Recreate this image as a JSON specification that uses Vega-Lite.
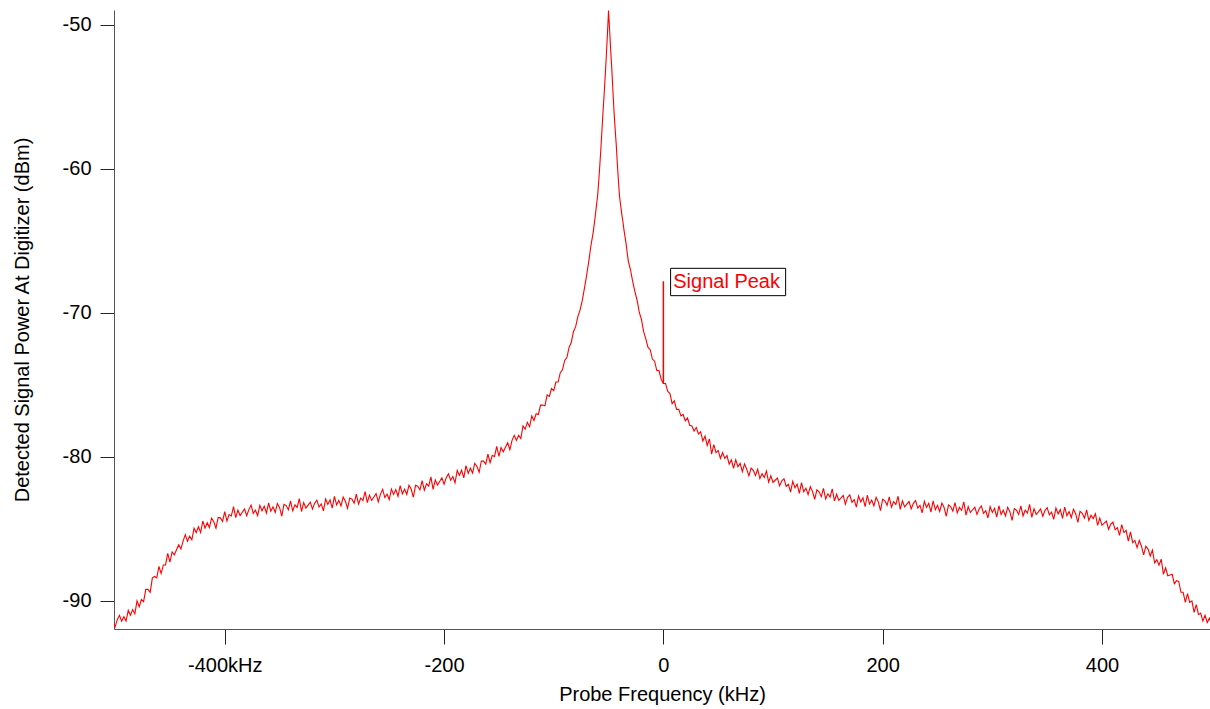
{
  "$schema": "https://vega.github.io/schema/vega-lite/v6.json",
  "autosize": {"type": "none"},
  "padding": {"left": 114, "top": 10, "right": 0, "bottom": 80},
  "width": 1096,
  "height": 619,
  "background": "white",
  "config": {
    "view": {"stroke": null},
    "font": "Liberation Sans",
    "text": {"font": "Liberation Sans"}
  },
  "datasets": {
    "spec": [
      {"f":-502,"p":-91.4},{"f":-500,"p":-91.8},{"f":-498,"p":-91.3},{"f":-496,"p":-91.0},{"f":-494,"p":-91.4},
      {"f":-492,"p":-91.1},{"f":-490,"p":-91.4},{"f":-488,"p":-90.65},{"f":-486,"p":-91.0},{"f":-484,"p":-90.6},
      {"f":-482,"p":-90.9},{"f":-480,"p":-90.0},{"f":-478,"p":-90.4},{"f":-476,"p":-89.9},{"f":-474,"p":-90.05},
      {"f":-472,"p":-89.2},{"f":-470,"p":-89.2},{"f":-468,"p":-89.4},{"f":-466,"p":-88.4},{"f":-464,"p":-88.3},
      {"f":-462,"p":-88.4},{"f":-460,"p":-87.6},{"f":-458,"p":-88.1},{"f":-456,"p":-87.5},{"f":-454,"p":-87.5},
      {"f":-452,"p":-86.7},{"f":-450,"p":-87.3},{"f":-448,"p":-86.6},{"f":-446,"p":-86.8},{"f":-444,"p":-86.45},
      {"f":-442,"p":-86.1},{"f":-440,"p":-86.4},{"f":-438,"p":-85.85},{"f":-436,"p":-85.4},{"f":-434,"p":-85.85},
      {"f":-432,"p":-85.5},{"f":-430,"p":-85.75},{"f":-428,"p":-84.95},{"f":-426,"p":-85.25},{"f":-424,"p":-84.85},
      {"f":-422,"p":-85.25},{"f":-420,"p":-84.45},{"f":-418,"p":-84.95},{"f":-416,"p":-84.57},{"f":-414,"p":-84.9},
      {"f":-412,"p":-84.25},{"f":-410,"p":-84.5},{"f":-408,"p":-84.95},{"f":-406,"p":-84.2},{"f":-404,"p":-84.23},
      {"f":-402,"p":-84.47},{"f":-400,"p":-83.8},{"f":-398,"p":-84.45},{"f":-396,"p":-84.0},{"f":-394,"p":-84.1},
      {"f":-392,"p":-83.45},{"f":-390,"p":-84.22},{"f":-388,"p":-83.7},{"f":-386,"p":-84.07},{"f":-384,"p":-83.84},
      {"f":-382,"p":-83.61},{"f":-380,"p":-84.08},{"f":-378,"p":-83.66},{"f":-376,"p":-83.34},{"f":-374,"p":-83.92},
      {"f":-372,"p":-83.7},{"f":-370,"p":-84.08},{"f":-368,"p":-83.36},{"f":-366,"p":-83.74},{"f":-364,"p":-83.42},
      {"f":-362,"p":-83.9},{"f":-360,"p":-83.19},{"f":-358,"p":-83.77},{"f":-356,"p":-83.46},{"f":-354,"p":-83.85},
      {"f":-352,"p":-83.24},{"f":-350,"p":-83.52},{"f":-348,"p":-84.11},{"f":-346,"p":-83.3},{"f":-344,"p":-83.38},
      {"f":-342,"p":-83.67},{"f":-340,"p":-83.06},{"f":-338,"p":-83.74},{"f":-336,"p":-83.33},{"f":-334,"p":-83.51},
      {"f":-332,"p":-82.9},{"f":-330,"p":-83.79},{"f":-328,"p":-83.17},{"f":-326,"p":-83.56},{"f":-324,"p":-83.35},
      {"f":-322,"p":-83.14},{"f":-320,"p":-83.62},{"f":-318,"p":-83.21},{"f":-316,"p":-83.0},{"f":-314,"p":-83.48},
      {"f":-312,"p":-83.26},{"f":-310,"p":-83.74},{"f":-308,"p":-82.92},{"f":-306,"p":-83.3},{"f":-304,"p":-82.98},
      {"f":-302,"p":-83.56},{"f":-300,"p":-82.74},{"f":-298,"p":-83.33},{"f":-296,"p":-83.02},{"f":-294,"p":-83.4},
      {"f":-292,"p":-82.79},{"f":-290,"p":-83.08},{"f":-288,"p":-83.57},{"f":-286,"p":-82.85},{"f":-284,"p":-82.93},
      {"f":-282,"p":-83.21},{"f":-280,"p":-82.59},{"f":-278,"p":-83.27},{"f":-276,"p":-82.85},{"f":-274,"p":-83.03},
      {"f":-272,"p":-82.41},{"f":-270,"p":-83.18},{"f":-268,"p":-82.65},{"f":-266,"p":-83.02},{"f":-264,"p":-82.78},
      {"f":-262,"p":-82.55},{"f":-260,"p":-83.12},{"f":-258,"p":-82.58},{"f":-256,"p":-82.25},{"f":-254,"p":-82.82},
      {"f":-252,"p":-82.59},{"f":-250,"p":-82.96},{"f":-248,"p":-82.23},{"f":-246,"p":-82.6},{"f":-244,"p":-82.26},
      {"f":-242,"p":-82.73},{"f":-240,"p":-82.0},{"f":-238,"p":-82.57},{"f":-236,"p":-82.23},{"f":-234,"p":-82.6},
      {"f":-232,"p":-81.97},{"f":-230,"p":-82.23},{"f":-228,"p":-82.8},{"f":-226,"p":-81.97},{"f":-224,"p":-82.03},
      {"f":-222,"p":-82.29},{"f":-220,"p":-81.65},{"f":-218,"p":-82.31},{"f":-216,"p":-81.87},{"f":-214,"p":-82.03},
      {"f":-212,"p":-81.39},{"f":-210,"p":-82.25},{"f":-208,"p":-81.6},{"f":-206,"p":-81.95},{"f":-204,"p":-81.7},
      {"f":-202,"p":-81.45},{"f":-200,"p":-81.9},{"f":-198,"p":-81.44},{"f":-196,"p":-81.18},{"f":-194,"p":-81.62},
      {"f":-192,"p":-81.36},{"f":-190,"p":-81.8},{"f":-188,"p":-80.94},{"f":-186,"p":-81.28},{"f":-184,"p":-80.92},
      {"f":-182,"p":-81.46},{"f":-180,"p":-80.6},{"f":-178,"p":-81.14},{"f":-176,"p":-80.78},{"f":-174,"p":-81.12},
      {"f":-172,"p":-80.45},{"f":-170,"p":-80.66},{"f":-168,"p":-81.07},{"f":-166,"p":-80.28},{"f":-164,"p":-80.29},
      {"f":-162,"p":-80.5},{"f":-160,"p":-79.8},{"f":-158,"p":-80.4},{"f":-156,"p":-79.89},{"f":-154,"p":-79.98},
      {"f":-152,"p":-79.27},{"f":-150,"p":-79.96},{"f":-148,"p":-79.35},{"f":-146,"p":-79.64},{"f":-144,"p":-79.33},
      {"f":-142,"p":-79.02},{"f":-140,"p":-79.5},{"f":-138,"p":-78.85},{"f":-136,"p":-78.5},{"f":-134,"p":-78.85},
      {"f":-132,"p":-78.5},{"f":-130,"p":-78.73},{"f":-128,"p":-77.85},{"f":-126,"p":-78.07},{"f":-124,"p":-77.6},
      {"f":-122,"p":-77.9},{"f":-120,"p":-77.15},{"f":-118,"p":-77.47},{"f":-116,"p":-77.0},{"f":-114,"p":-77.05},
      {"f":-112,"p":-76.4},{"f":-110,"p":-76.4},{"f":-108,"p":-76.45},{"f":-106,"p":-75.7},{"f":-104,"p":-75.8},
      {"f":-102,"p":-75.25},{"f":-100,"p":-75.4},{"f":-98,"p":-74.8},{"f":-96,"p":-74.8},{"f":-94,"p":-74.15},
      {"f":-92,"p":-73.95},{"f":-90,"p":-73.3},{"f":-88,"p":-73.1},{"f":-86,"p":-72.4},{"f":-84,"p":-72.05},
      {"f":-82,"p":-71.3},{"f":-80,"p":-70.95},{"f":-78,"p":-70.25},{"f":-76,"p":-69.8},{"f":-74,"p":-69.15},
      {"f":-72,"p":-68.3},{"f":-70,"p":-67.4},{"f":-68,"p":-66.4},{"f":-66,"p":-65.3},{"f":-64,"p":-64.4},
      {"f":-62,"p":-63.2},{"f":-61,"p":-62.5},{"f":-60,"p":-61.9},{"f":-59,"p":-60.9},{"f":-58,"p":-59.8},
      {"f":-57,"p":-58.6},{"f":-56,"p":-57.3},{"f":-55,"p":-56.0},{"f":-54,"p":-54.8},{"f":-53,"p":-53.5},
      {"f":-52,"p":-52.1},{"f":-51,"p":-50.6},{"f":-50,"p":-49.0},{"f":-49,"p":-50.4},{"f":-48,"p":-51.8},
      {"f":-47,"p":-53.1},{"f":-46,"p":-54.6},{"f":-45,"p":-56.0},{"f":-44,"p":-57.2},{"f":-43,"p":-58.3},
      {"f":-42,"p":-59.6},{"f":-41,"p":-60.8},{"f":-40,"p":-61.9},{"f":-39,"p":-62.5},{"f":-38,"p":-63.1},
      {"f":-37,"p":-63.6},{"f":-36,"p":-64.2},{"f":-35,"p":-64.7},{"f":-34,"p":-65.2},{"f":-32,"p":-66.4},
      {"f":-30,"p":-67.0},{"f":-28,"p":-67.8},{"f":-26,"p":-68.5},{"f":-24,"p":-69.1},{"f":-22,"p":-69.95},
      {"f":-20,"p":-70.45},{"f":-18,"p":-71.3},{"f":-16,"p":-71.8},{"f":-14,"p":-72.4},{"f":-12,"p":-72.55},
      {"f":-10,"p":-73.2},{"f":-8,"p":-73.35},{"f":-6,"p":-74.0},{"f":-4,"p":-74.0},{"f":-2,"p":-74.6},
      {"f":0,"p":-74.9},{"f":2,"p":-74.9},{"f":4,"p":-75.45},{"f":6,"p":-75.6},{"f":8,"p":-76.3},
      {"f":10,"p":-76.1},{"f":12,"p":-76.7},{"f":14,"p":-76.7},{"f":16,"p":-77.15},{"f":18,"p":-77.05},
      {"f":20,"p":-77.5},{"f":22,"p":-77.3},{"f":24,"p":-77.8},{"f":26,"p":-77.85},{"f":28,"p":-78.2},
      {"f":30,"p":-77.95},{"f":32,"p":-78.4},{"f":34,"p":-78.25},{"f":36,"p":-78.9},{"f":38,"p":-78.55},
      {"f":40,"p":-79.2},{"f":42,"p":-78.75},{"f":44,"p":-79.8},{"f":46,"p":-79.15},{"f":48,"p":-79.7},
      {"f":50,"p":-79.55},{"f":52,"p":-80.1},{"f":54,"p":-79.7},{"f":56,"p":-80.1},{"f":58,"p":-79.9},
      {"f":60,"p":-80.5},{"f":62,"p":-80.2},{"f":64,"p":-80.8},{"f":66,"p":-80.2},{"f":68,"p":-80.68},
      {"f":70,"p":-80.45},{"f":72,"p":-81.02},{"f":74,"p":-80.48},{"f":76,"p":-80.85},{"f":78,"p":-81.31},
      {"f":80,"p":-80.77},{"f":82,"p":-80.93},{"f":84,"p":-81.29},{"f":86,"p":-80.85},{"f":88,"p":-81.5},
      {"f":90,"p":-81.17},{"f":92,"p":-81.43},{"f":94,"p":-80.99},{"f":96,"p":-81.75},{"f":98,"p":-81.31},
      {"f":100,"p":-81.77},{"f":102,"p":-81.62},{"f":104,"p":-81.47},{"f":106,"p":-82.01},{"f":108,"p":-81.66},
      {"f":110,"p":-81.51},{"f":112,"p":-82.05},{"f":114,"p":-81.9},{"f":116,"p":-82.45},{"f":118,"p":-81.69},
      {"f":120,"p":-82.14},{"f":122,"p":-81.89},{"f":124,"p":-82.53},{"f":126,"p":-81.78},{"f":128,"p":-82.42},
      {"f":130,"p":-82.17},{"f":132,"p":-82.62},{"f":134,"p":-82.06},{"f":136,"p":-82.4},{"f":138,"p":-82.94},
      {"f":140,"p":-82.28},{"f":142,"p":-82.42},{"f":144,"p":-82.76},{"f":146,"p":-82.19},{"f":148,"p":-82.92},
      {"f":150,"p":-82.56},{"f":152,"p":-82.79},{"f":154,"p":-82.22},{"f":156,"p":-83.05},{"f":158,"p":-82.59},
      {"f":160,"p":-83.02},{"f":162,"p":-82.85},{"f":164,"p":-82.67},{"f":166,"p":-83.29},{"f":168,"p":-82.81},
      {"f":170,"p":-82.63},{"f":172,"p":-83.15},{"f":174,"p":-82.97},{"f":176,"p":-83.49},{"f":178,"p":-82.71},
      {"f":180,"p":-83.12},{"f":182,"p":-82.83},{"f":184,"p":-83.45},{"f":186,"p":-82.66},{"f":188,"p":-83.27},
      {"f":190,"p":-82.99},{"f":192,"p":-83.4},{"f":194,"p":-82.81},{"f":196,"p":-83.12},{"f":198,"p":-83.73},
      {"f":200,"p":-82.94},{"f":202,"p":-83.05},{"f":204,"p":-83.36},{"f":206,"p":-82.78},{"f":208,"p":-83.49},
      {"f":210,"p":-83.1},{"f":212,"p":-83.31},{"f":214,"p":-82.73},{"f":216,"p":-83.64},{"f":218,"p":-83.05},
      {"f":220,"p":-83.47},{"f":222,"p":-83.28},{"f":224,"p":-83.09},{"f":226,"p":-83.61},{"f":228,"p":-83.22},
      {"f":230,"p":-83.04},{"f":232,"p":-83.55},{"f":234,"p":-83.36},{"f":236,"p":-83.88},{"f":238,"p":-83.09},
      {"f":240,"p":-83.51},{"f":242,"p":-83.22},{"f":244,"p":-83.83},{"f":246,"p":-83.05},{"f":248,"p":-83.66},
      {"f":250,"p":-83.37},{"f":252,"p":-83.79},{"f":254,"p":-83.2},{"f":256,"p":-83.51},{"f":258,"p":-84.12},
      {"f":260,"p":-83.34},{"f":262,"p":-83.45},{"f":264,"p":-83.76},{"f":266,"p":-83.18},{"f":268,"p":-83.89},
      {"f":270,"p":-83.5},{"f":272,"p":-83.71},{"f":274,"p":-83.12},{"f":276,"p":-84.04},{"f":278,"p":-83.45},
      {"f":280,"p":-83.86},{"f":282,"p":-83.67},{"f":284,"p":-83.48},{"f":286,"p":-83.99},{"f":288,"p":-83.6},
      {"f":290,"p":-83.41},{"f":292,"p":-83.92},{"f":294,"p":-83.73},{"f":296,"p":-84.24},{"f":298,"p":-83.45},
      {"f":300,"p":-83.86},{"f":302,"p":-83.57},{"f":304,"p":-84.18},{"f":306,"p":-83.39},{"f":308,"p":-84.0},
      {"f":310,"p":-83.7},{"f":312,"p":-84.1},{"f":314,"p":-83.5},{"f":316,"p":-83.8},{"f":318,"p":-84.4},
      {"f":320,"p":-83.6},{"f":322,"p":-83.7},{"f":324,"p":-84.0},{"f":326,"p":-83.4},{"f":328,"p":-84.1},
      {"f":330,"p":-83.7},{"f":332,"p":-83.9},{"f":334,"p":-83.3},{"f":336,"p":-84.2},{"f":338,"p":-83.6},
      {"f":340,"p":-84.0},{"f":342,"p":-83.81},{"f":344,"p":-83.61},{"f":346,"p":-84.12},{"f":348,"p":-83.72},
      {"f":350,"p":-83.53},{"f":352,"p":-84.03},{"f":354,"p":-83.84},{"f":356,"p":-84.34},{"f":358,"p":-83.55},
      {"f":360,"p":-83.95},{"f":362,"p":-83.66},{"f":364,"p":-84.27},{"f":366,"p":-83.48},{"f":368,"p":-84.09},
      {"f":370,"p":-83.8},{"f":372,"p":-84.21},{"f":374,"p":-83.63},{"f":376,"p":-83.94},{"f":378,"p":-84.55},
      {"f":380,"p":-83.78},{"f":382,"p":-83.91},{"f":384,"p":-84.25},{"f":386,"p":-83.68},{"f":388,"p":-84.41},
      {"f":390,"p":-84.05},{"f":392,"p":-84.28},{"f":394,"p":-83.95},{"f":396,"p":-84.75},{"f":398,"p":-84.25},
      {"f":400,"p":-84.75},{"f":402,"p":-84.6},{"f":404,"p":-84.45},{"f":406,"p":-85.02},{"f":408,"p":-84.67},
      {"f":410,"p":-84.52},{"f":412,"p":-85.06},{"f":414,"p":-84.9},{"f":416,"p":-85.45},{"f":418,"p":-84.7},
      {"f":420,"p":-85.25},{"f":422,"p":-85.1},{"f":424,"p":-85.85},{"f":426,"p":-85.2},{"f":428,"p":-85.95},
      {"f":430,"p":-85.8},{"f":432,"p":-86.3},{"f":434,"p":-85.8},{"f":436,"p":-86.2},{"f":438,"p":-86.8},
      {"f":440,"p":-86.2},{"f":442,"p":-86.4},{"f":444,"p":-86.88},{"f":446,"p":-86.47},{"f":448,"p":-87.35},
      {"f":450,"p":-87.13},{"f":452,"p":-87.52},{"f":454,"p":-87.1},{"f":456,"p":-88.15},{"f":458,"p":-87.7},
      {"f":460,"p":-88.25},{"f":462,"p":-88.2},{"f":464,"p":-88.15},{"f":466,"p":-88.8},{"f":468,"p":-88.6},
      {"f":470,"p":-88.65},{"f":472,"p":-89.4},{"f":474,"p":-89.4},{"f":476,"p":-90.1},{"f":478,"p":-89.5},
      {"f":480,"p":-90.1},{"f":482,"p":-90.0},{"f":484,"p":-90.8},{"f":486,"p":-90.25},{"f":488,"p":-90.95},
      {"f":490,"p":-90.85},{"f":492,"p":-91.4},{"f":494,"p":-91.0},{"f":496,"p":-91.5},{"f":498,"p":-91.2},
      {"f":500,"p":-91.6}
    ],
    "marker": [{"f": 0, "top": -67.8, "bottom": -74.9}],
    "box": [{"x1": 6.6, "x2": 111.5, "y1": -66.9, "y2": -68.8, "f": 9.0, "p": -67.85, "label": "Signal Peak"}]
  },
  "layer": [
    {
      "data": {"name": "spec"},
      "mark": {"type": "line", "color": "#ff0000", "strokeWidth": 1.1, "clip": true, "interpolate": "linear"},
      "encoding": {
        "x": {
          "field": "f", "type": "quantitative",
          "scale": {"domain": [-501, 498.5], "nice": false, "zero": false},
          "axis": {
            "title": "Probe Frequency (kHz)",
            "values": [-400, -200, 0, 200, 400],
            "labelExpr": "datum.value == -400 ? '-400kHz' : '' + datum.value",
            "grid": false,
            "domainColor": "#555555", "domainWidth": 1,
            "tickColor": "#222222", "tickSize": 15, "tickWidth": 1,
            "labelFont": "Liberation Sans", "labelFontSize": 20, "labelColor": "#000000", "labelPadding": 11,
            "titleFont": "Liberation Sans", "titleFontSize": 20, "titleFontWeight": "normal", "titleColor": "#000000", "titlePadding": 9
          }
        },
        "y": {
          "field": "p", "type": "quantitative",
          "scale": {"domain": [-91.95, -48.96], "nice": false, "zero": false},
          "axis": {
            "title": "Detected Signal Power At Digitizer (dBm)",
            "values": [-90, -80, -70, -60, -50],
            "labelExpr": "'' + datum.value",
            "grid": false,
            "domainColor": "#555555", "domainWidth": 1,
            "tickColor": "#222222", "tickSize": 14, "tickWidth": 1,
            "labelFont": "Liberation Sans", "labelFontSize": 20, "labelColor": "#000000", "labelPadding": 9,
            "titleFont": "Liberation Sans", "titleFontSize": 20, "titleFontWeight": "normal", "titleColor": "#000000",
            "titleX": -92, "titleBaseline": "middle"
          }
        }
      }
    },
    {
      "data": {"name": "marker"},
      "mark": {"type": "rule", "color": "#ff0000", "strokeWidth": 1.5},
      "encoding": {
        "x": {"field": "f", "type": "quantitative"},
        "y": {"field": "top", "type": "quantitative"},
        "y2": {"field": "bottom"}
      }
    },
    {
      "data": {"name": "box"},
      "mark": {"type": "rect", "fill": "#ffffff", "stroke": "#000000", "strokeWidth": 1},
      "encoding": {
        "x": {"field": "x1", "type": "quantitative"},
        "x2": {"field": "x2"},
        "y": {"field": "y1", "type": "quantitative"},
        "y2": {"field": "y2"}
      }
    },
    {
      "data": {"name": "box"},
      "mark": {"type": "text", "color": "#ff0000", "font": "Liberation Sans", "fontSize": 20, "align": "left", "baseline": "middle"},
      "encoding": {
        "x": {"field": "f", "type": "quantitative"},
        "y": {"field": "p", "type": "quantitative"},
        "text": {"field": "label"}
      }
    }
  ]
}
